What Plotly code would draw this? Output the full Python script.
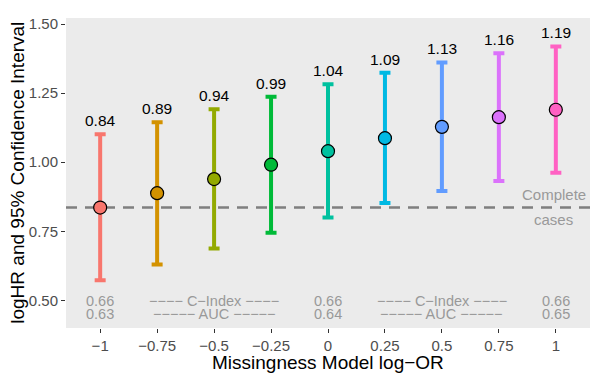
import plotly.graph_objects as go

log_or = [-1, -0.75, -0.5, -0.25, 0, 0.25, 0.5, 0.75, 1]
log_hr = [0.836, 0.888, 0.939, 0.991, 1.040, 1.087, 1.128, 1.163, 1.190]
ci_low = [0.573, 0.630, 0.688, 0.745, 0.800, 0.852, 0.896, 0.932, 0.962]
ci_high = [1.101, 1.145, 1.192, 1.237, 1.282, 1.324, 1.361, 1.394, 1.419]
hr_labels = ["0.84", "0.89", "0.94", "0.99", "1.04", "1.09", "1.13", "1.16", "1.19"]
colors = ["#F8766D", "#D39200", "#93AA00", "#00BA38", "#00C19F",
          "#00B9E3", "#619CFF", "#DB72FB", "#FF61C3"]
complete_cases = 0.836

# model performance notes along the bottom
perf_x = [-1, -0.5, 0, 0.5, 1]
cindex_text = ["0.66", "−−−− C−Index −−−−", "0.66", "−−−− C−Index −−−−", "0.66"]
auc_text = ["0.63", "−−−−− AUC −−−−−", "0.64", "−−−−− AUC −−−−−", "0.65"]

tick_vals = [-1, -0.75, -0.5, -0.25, 0, 0.25, 0.5, 0.75, 1]
tick_text = ["−1", "−0.75", "−0.5", "−0.25", "0", "0.25", "0.5", "0.75", "1"]

FONT = "Liberation Sans, Arial, sans-serif"
GREY = "#999999"

fig = go.Figure()

# reference line for complete cases
fig.add_hline(y=complete_cases, line_dash="11px,8px", line_color="#7F7F7F",
              line_width=2.5, layer="below")

for x, y, lo, hi, c in zip(log_or, log_hr, ci_low, ci_high, colors):
    fig.add_trace(go.Scatter(
        x=[x], y=[y], mode="markers",
        marker=dict(size=13, color=c, line=dict(color="black", width=1.2)),
        error_y=dict(type="data", symmetric=False, array=[hi - y], arrayminus=[y - lo],
                     color=c, thickness=4, width=5.5),
        showlegend=False,
    ))

for x, hi, lab in zip(log_or, ci_high, hr_labels):
    fig.add_annotation(x=x, y=hi, text=lab, showarrow=False, yanchor="bottom",
                       yshift=3, font=dict(size=15.5, color="black", family=FONT))

for x, t1, t2 in zip(perf_x, cindex_text, auc_text):
    fig.add_annotation(x=x, y=0.499, text=t1, showarrow=False,
                       font=dict(size=14.5, color=GREY, family=FONT))
    fig.add_annotation(x=x, y=0.449, text=t2, showarrow=False,
                       font=dict(size=14.5, color=GREY, family=FONT))

fig.add_annotation(x=0.99, y=0.883, text="Complete", showarrow=False,
                   font=dict(size=15, color=GREY, family=FONT))
fig.add_annotation(x=0.99, y=0.792, text="cases", showarrow=False,
                   font=dict(size=15, color=GREY, family=FONT))

# axis titles placed by hand
fig.add_annotation(x=0.5, y=-0.11, xref="paper", yref="paper", yanchor="middle",
                   text="Missingness Model log−OR", showarrow=False,
                   font=dict(size=19, color="black", family=FONT))
fig.add_annotation(x=-0.094, y=0.5, xref="paper", yref="paper", xanchor="center",
                   text="logHR and 95% Confidence Interval", showarrow=False,
                   textangle=-90, font=dict(size=19, color="black", family=FONT))

fig.update_xaxes(range=[-1.15, 1.15], tickvals=tick_vals, ticktext=tick_text,
                 showgrid=False, zeroline=False, ticks="outside", ticklen=4,
                 tickcolor="#333333", tickwidth=1.2, automargin=False,
                 tickfont=dict(size=15, color="#4D4D4D", family=FONT))
fig.update_yaxes(range=[0.40, 1.522], tickvals=[0.5, 0.75, 1.0, 1.25, 1.5],
                 ticktext=["0.50", "0.75", "1.00", "1.25", "1.50"],
                 showgrid=False, zeroline=False, ticks="outside", ticklen=4,
                 tickcolor="#333333", tickwidth=1.2, automargin=False,
                 tickfont=dict(size=15, color="#4D4D4D", family=FONT))

# the page body adds an 8px offset, so the figure is a little smaller than the window
fig.update_layout(
    width=590, height=372,
    margin=dict(l=58, r=8, t=10, b=52, autoexpand=False),
    plot_bgcolor="#EBEBEB", paper_bgcolor="white",
    font=dict(family=FONT),
)

fig.write_html("out.html")
